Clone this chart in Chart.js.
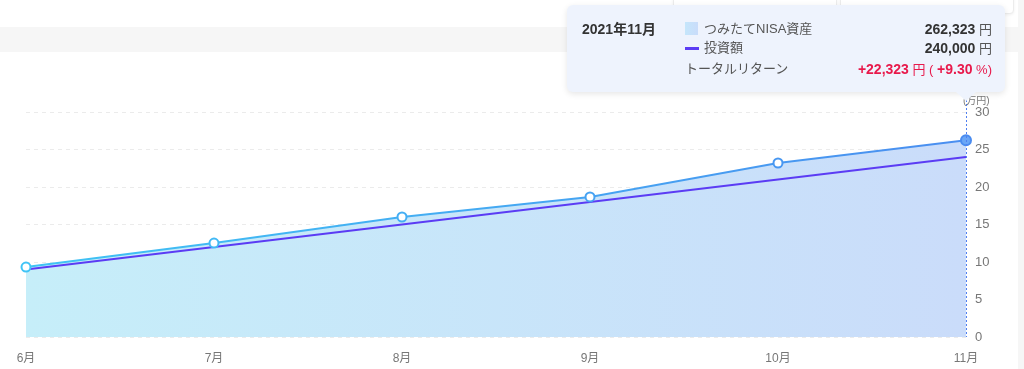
<!DOCTYPE html>
<html><head><meta charset="utf-8">
<script src="https://cdn.jsdelivr.net/npm/chart.js@4/dist/chart.umd.min.js"></script>
<style>
html,body{margin:0;padding:0;}
body{width:1024px;height:369px;background:#f6f6f6;position:relative;overflow:hidden;font-family:"Liberation Sans","Noto Sans CJK JP",sans-serif;}
#topcard{position:absolute;left:0;top:0;width:1018px;height:27px;background:#fff;}
.mini{position:absolute;top:-12px;height:24px;background:#fff;border:1px solid #ececec;border-radius:4px;box-shadow:0 1px 3px rgba(0,0,0,0.06);}
#main{position:absolute;left:0;top:52px;width:1018px;height:330px;background:#fff;}
#wrap{position:absolute;left:0;top:0;width:1024px;height:369px;}
#unit{position:absolute;left:963px;top:92px;font-size:10px;color:#777;}
#tip{position:absolute;left:567px;top:5px;width:438px;height:87px;background:#eef3fd;border-radius:6px;box-shadow:0 2px 6px rgba(0,0,0,0.10);font-size:13px;color:#555;}
#arrow{position:absolute;width:0;height:0;border-left:10px solid transparent;border-right:10px solid transparent;border-top:9px solid #eef3fd;}
.t{position:absolute;white-space:nowrap;line-height:16px;}
.b{font-weight:bold;color:#333;font-size:14px;}
.r{text-align:right;}
.red{color:#e8194b;}
.red b{font-size:14px;}
</style></head>
<body>
<div id="topcard"></div>
<div class="mini" style="left:673px;width:162px;"></div>
<div class="mini" style="left:840px;width:172px;"></div>
<div id="main"></div>
<div id="wrap"><canvas id="c" width="1024" height="369"></canvas></div>
<div id="unit">(万円)</div>
<div id="tip">
  <div class="t b" style="left:15px;top:16px;">2021年11月</div>
  <div style="position:absolute;left:118px;top:17px;width:13px;height:13px;background:linear-gradient(90deg,#c5e6fb,#c9dcfa);"></div>
  <div class="t" style="left:137px;top:16px;">つみたてNISA資産</div>
  <div class="t r" style="right:13px;top:16px;"><span class="b">262,323</span> 円</div>
  <div style="position:absolute;left:118px;top:42px;width:14px;height:3px;background:#5b3cf4;"></div>
  <div class="t" style="left:137px;top:35px;">投資額</div>
  <div class="t r" style="right:13px;top:35px;"><span class="b">240,000</span> 円</div>
  <div class="t" style="left:118px;top:56px;">トータルリターン</div>
  <div class="t r red" style="right:13px;top:56px;"><b>+22,323</b> 円 ( <b>+9.30</b> %)</div>
</div>
<div id="arrow"></div>
<script>
const labels = ['6月','7月','8月','9月','10月','11月'];
const assetValues = [9.33, 12.53, 16.0, 18.67, 23.2, 26.23];
const investValues = [9, 12, 15, 18, 21, 24];
const yTicks = [0, 5, 10, 15, 20, 25, 30];
const activeIndex = 5;

function lineGrad(ctx, c1, c2){
  const ch = ctx.chart, a = ch.chartArea;
  if(!a) return c1;
  const g = ch.ctx.createLinearGradient(a.left,0,a.right,0);
  g.addColorStop(0,c1); g.addColorStop(1,c2);
  return g;
}
function pointColor(i){
  const t = i/(labels.length-1);
  const c1=[64,196,246], c2=[74,140,240];
  const c = c1.map((v,k)=>Math.round(v+(c2[k]-v)*t));
  return `rgb(${c[0]},${c[1]},${c[2]})`;
}

const crosshair = {
  id:'crosshair',
  afterDatasetsDraw(chart){
    const meta = chart.getDatasetMeta(0);
    const p = meta.data[activeIndex];
    const ctx = chart.ctx, a = chart.chartArea;
    ctx.save();
    ctx.strokeStyle = '#4f7ff0';
    ctx.lineWidth = 1;
    ctx.setLineDash([2,2]);
    ctx.beginPath();
    ctx.moveTo(Math.round(p.x)+0.5, a.top-12);
    ctx.lineTo(Math.round(p.x)+0.5, a.bottom);
    ctx.stroke();
    ctx.restore();
  },
  afterRender(chart){
    const p = chart.getDatasetMeta(0).data[activeIndex];
    const ar = document.getElementById('arrow');
    ar.style.left = (p.x-10)+'px';
    ar.style.top = '92px';
  }
};

new Chart(document.getElementById('c'), {
  type:'line',
  data:{
    labels: labels,
    datasets:[
      {
        label:'つみたてNISA資産',
        data: assetValues,
        borderColor: ctx=>lineGrad(ctx,'#3fc4f4','#4a8ef0'),
        borderWidth:2,
        fill:'origin',
        backgroundColor: ctx=>lineGrad(ctx,'#c6eef9','#cadcfa'),
        pointRadius: ctx=> ctx.dataIndex===activeIndex?5:4.5,
        pointBorderWidth: 2,
        pointBackgroundColor: ctx=> ctx.dataIndex===activeIndex?'#6aa6f6':'#ffffff',
        pointBorderColor: ctx=> pointColor(ctx.dataIndex),
        tension:0
      },
      {
        label:'投資額',
        data: investValues,
        borderColor:'#5b3cf4',
        borderWidth:2,
        fill:false,
        pointRadius:0,
        tension:0
      }
    ]
  },
  options:{
    responsive:false,
    animation:false,
    events:[],
    layout:{padding:{left:26,top:112,right:0,bottom:0}},
    plugins:{
      legend:{display:false},
      tooltip:{enabled:false},
      filler:{drawTime:'beforeDatasetsDraw'}
    },
    scales:{
      x:{
        offset:false,
        grid:{display:false,drawTicks:false},
        border:{display:false},
        ticks:{color:'#777',font:{size:12,family:'"Liberation Sans","Noto Sans CJK JP"'},padding:14,maxRotation:0,autoSkip:false},
        afterFit(s){s.height=32;}
      },
      y:{
        position:'right',
        min:0,max:30,
        afterBuildTicks(s){s.ticks = yTicks.map(v=>({value:v}));},
        grid:{color:'#ebebeb',drawTicks:false,lineWidth:1},
        border:{display:false,dash:[4,4]},
        ticks:{color:'#777',font:{size:13,family:'"Liberation Sans","Noto Sans CJK JP"'},padding:9},
        afterFit(s){s.width=58;}
      }
    }
  },
  plugins:[crosshair]
});
</script>
</body></html>
